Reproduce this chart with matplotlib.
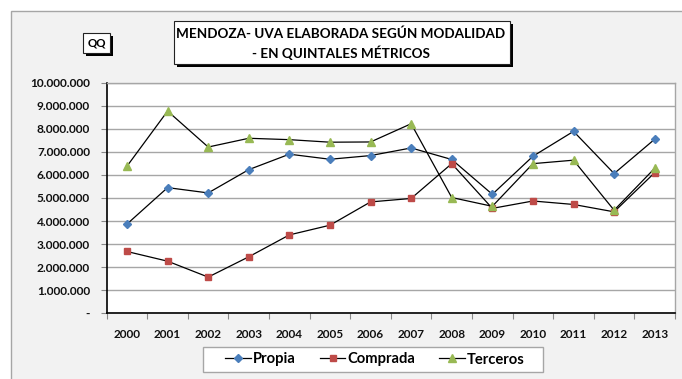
import matplotlib
matplotlib.use("Agg")
import matplotlib.pyplot as plt
from matplotlib.patches import Rectangle
from matplotlib.ticker import FixedLocator, FuncFormatter

# Harvested grape processed in Mendoza by modality (quintales métricos)
years = ["2000", "2001", "2002", "2003", "2004", "2005", "2006",
         "2007", "2008", "2009", "2010", "2011", "2012", "2013"]
propia = [3870000, 5450000, 5220000, 6230000, 6900000, 6680000, 6840000,
          7170000, 6670000, 5160000, 6810000, 7890000, 6060000, 7550000]
comprada = [2680000, 2260000, 1570000, 2450000, 3400000, 3820000, 4830000,
            4980000, 6490000, 4550000, 4870000, 4720000, 4400000, 6100000]
terceros = [6380000, 8770000, 7210000, 7590000, 7530000, 7420000, 7430000,
            8220000, 5020000, 4640000, 6490000, 6640000, 4470000, 6290000]
yticks = [0, 1000000, 2000000, 3000000, 4000000, 5000000,
          6000000, 7000000, 8000000, 9000000, 10000000]

title_lines = ["MENDOZA- UVA ELABORADA SEGÚN MODALIDAD",
               "- EN QUINTALES MÉTRICOS"]
unit_label = "QQ"

W, H = 682, 379
FONT = ["Lato", "DejaVu Sans"]
plt.rcParams["font.family"] = FONT
plt.rcParams["font.weight"] = "bold"

fig = plt.figure(figsize=(W / 100, H / 100), dpi=100)
fig.patch.set_facecolor("white")


def fx(x):
    return x / W


def fy(y):
    return 1 - y / H


def box(x0, y0, x1, y1, **kw):
    return Rectangle((fx(x0), fy(y1)), fx(x1) - fx(x0), fy(y0) - fy(y1),
                     transform=fig.transFigure, **kw)


# chart area frame
fig.patches.append(box(11, 11, W + 10, H + 10, facecolor="#f2f2f2",
                       edgecolor="#a6a6a6", linewidth=1.0, zorder=-5))

# plot area
left, right, top, bottom = 106.7, 675, 82.7, 313.3
ax = fig.add_axes([fx(left), fy(bottom), fx(right) - fx(left), fy(top) - fy(bottom)])
ax.set_facecolor("white")

x = list(range(len(years)))
ax.plot(x, propia, color="black", lw=0.9, marker="D", ms=4.0,
        mfc="#4a7ebb", mec="#4a7ebb", label="Propia", zorder=3)
ax.plot(x, comprada, color="black", lw=0.9, marker="s", ms=4.8,
        mfc="#be4b48", mec="#be4b48", label="Comprada", zorder=3)
ax.plot(x, terceros, color="black", lw=0.9, marker="^", ms=5.4,
        mfc="#98b954", mec="#98b954", label="Terceros", zorder=3)

ax.set_xlim(-0.5, len(years) - 0.5)
ax.set_ylim(0, 10000000)

ax.yaxis.set_major_locator(FixedLocator(yticks))
ax.yaxis.set_major_formatter(FuncFormatter(
    lambda v, p: "-" if v == 0 else f"{int(v):,}".replace(",", ".")))
ax.grid(axis="y", color="#a6a6a6", lw=1.0, zorder=1)
ax.set_axisbelow(True)

ax.set_xticks(x)
ax.set_xticklabels(years)
ax.xaxis.set_minor_locator(FixedLocator([i - 0.5 for i in range(len(years) + 1)]))
ax.tick_params(axis="x", which="major", length=0, pad=11, labelsize=8.5)
ax.tick_params(axis="x", which="minor", length=4, color="#888888", width=0.8)
ax.tick_params(axis="y", which="major", length=4, color="#888888", width=0.8,
               pad=8, labelsize=8.6)
for lab in ax.get_xticklabels() + ax.get_yticklabels():
    lab.set_fontweight("bold")
    lab.set_color("#111111")

for side in ("left", "bottom"):
    ax.spines[side].set_color("black")
    ax.spines[side].set_linewidth(1.2)
for side in ("top", "right"):
    ax.spines[side].set_color("#a6a6a6")
    ax.spines[side].set_linewidth(1.0)

# legend with its own frame
fig.patches.append(box(203, 346.7, 543, 372.3, facecolor="white",
                       edgecolor="#a6a6a6", linewidth=1.0, zorder=-1))
leg = fig.legend(loc="center", bbox_to_anchor=(fx(375), fy(359.5)), ncol=3,
                 frameon=False, handlelength=1.75, handletextpad=0.15,
                 columnspacing=1.6, borderpad=0.2,
                 prop={"family": FONT, "weight": "bold", "size": 10.6})

# title box with drop shadow
fig.patches.append(box(177, 24, 513, 67, facecolor="black", edgecolor="none", zorder=5))
fig.patches.append(box(174, 21, 510, 64, facecolor="white", edgecolor="#222222",
                       linewidth=0.8, zorder=6))
fig.text(fx(341), fy(34), title_lines[0], ha="center", va="center",
         fontsize=9.7, fontweight="bold", zorder=7)
fig.text(fx(341), fy(52.5), title_lines[1], ha="center", va="center",
         fontsize=9.7, fontweight="bold", zorder=7)

# unit box with drop shadow
fig.patches.append(box(85.7, 36.3, 113, 56.3, facecolor="black", edgecolor="none", zorder=5))
fig.patches.append(box(82.7, 33.3, 110, 53.3, facecolor="white", edgecolor="#222222",
                       linewidth=0.8, zorder=6))
fig.text(fx(96.4), fy(43.5), unit_label, ha="center", va="center",
         fontsize=8.3, fontweight="bold", zorder=7)

fig.savefig("out.png", dpi=100)
